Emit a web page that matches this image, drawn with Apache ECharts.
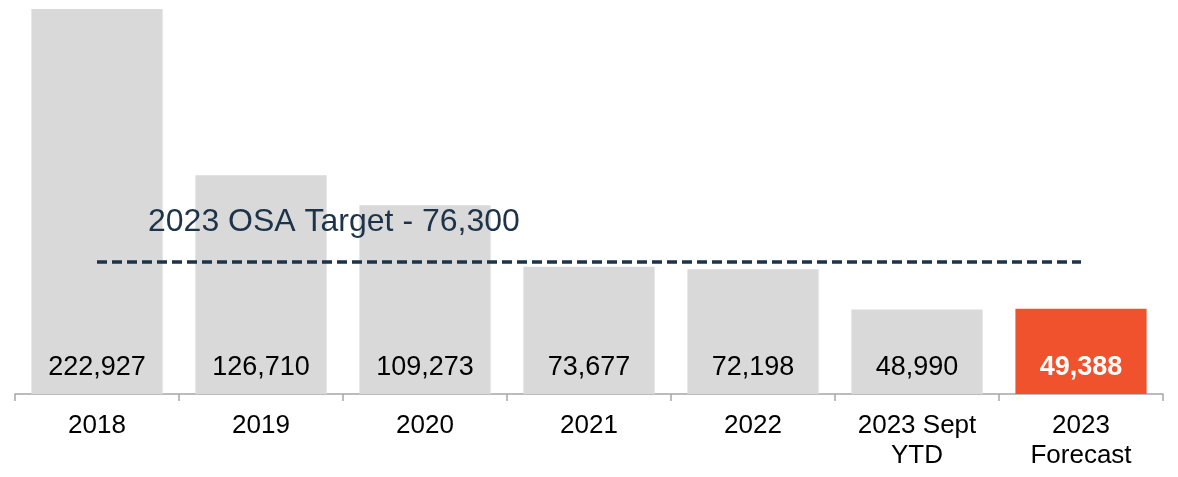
<!DOCTYPE html>
<html>
<head>
<meta charset="utf-8">
<script src="https://cdn.jsdelivr.net/npm/echarts@6/dist/echarts.min.js"></script>
<style>
html,body{margin:0;padding:0;background:#fff;}
#chart{width:1178px;height:477px;}
</style>
</head>
<body>
<div id="chart"></div>
<script>
const categories = ['2018', '2019', '2020', '2021', '2022', '2023 Sept\nYTD', '2023\nForecast'];
const values = [222927, 126710, 109273, 73677, 72198, 48990, 49388];
const highlightIndex = 6;
const targetValue = 76300;
const targetLabel = '2023 OSA Target - 76,300';

const FONT = '"Liberation Sans", Arial, sans-serif';
const chart = echarts.init(document.getElementById('chart'));

const barData = values.map((v, i) => {
  if (i === highlightIndex) {
    return {
      value: v,
      itemStyle: { color: '#F0522D' },
      label: { color: '#ffffff', fontWeight: 'bold' }
    };
  }
  return { value: v };
});

chart.setOption({
  animation: false,
  grid: { left: 15, right: 15, top: 9, bottom: 83 },
  xAxis: {
    type: 'category',
    data: categories,
    axisLine: { lineStyle: { color: '#a6a6a6', width: 1.5 } },
    axisTick: { show: true, length: 7, lineStyle: { color: '#a6a6a6', width: 1.5 } },
    axisLabel: {
      color: '#000', fontSize: 26, fontFamily: FONT, margin: 17, lineHeight: 30, interval: 0
    }
  },
  yAxis: {
    type: 'value', min: 0, max: 222927, show: false, splitLine: { show: false }
  },
  series: [{
    type: 'bar',
    data: barData,
    barCategoryGap: '20%',
    itemStyle: { color: '#D9D9D9' },
    label: {
      show: true,
      position: 'insideBottom',
      distance: 13,
      fontSize: 27,
      fontFamily: FONT,
      color: '#000',
      formatter: p => p.value.toLocaleString('en-US')
    },
    markLine: {
      silent: true,
      symbol: ['none', 'none'],
      label: { show: false },
      lineStyle: { color: '#1C3349', width: 3.5, type: [10, 5] },
      data: [[
        { coord: [categories[0], targetValue] },
        { coord: [categories[categories.length - 1], targetValue] }
      ]]
    }
  }]
});

const p = chart.convertToPixel({ gridIndex: 0 }, [categories[0], targetValue]);
chart.setOption({
  graphic: [{
    type: 'text',
    z: 100,
    x: p[0] + 51,
    y: p[1] - 40,
    style: {
      text: targetLabel,
      fill: '#1C3349',
      font: '32px ' + FONT,
      textVerticalAlign: 'middle'
    }
  }]
});
</script>
</body>
</html>
